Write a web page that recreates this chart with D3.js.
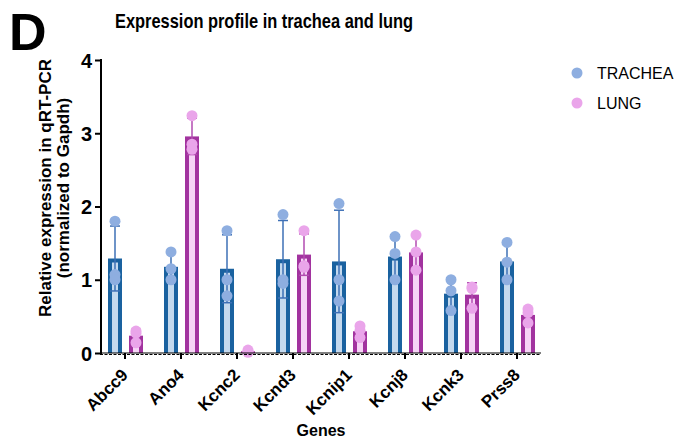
<!DOCTYPE html>
<html><head><meta charset="utf-8">
<script src="https://cdn.jsdelivr.net/npm/d3@7"></script>
<style>
html,body{margin:0;padding:0;background:#fff;}
text{font-family:"Liberation Sans",Arial,sans-serif;}
</style></head>
<body><svg id="c" width="680" height="440"></svg>
<script>
const genes = ["Abcc9","Ano4","Kcnc2","Kcnd3","Kcnip1","Kcnj8","Kcnk3","Prss8"];
const series = ["TRACHEA","LUNG"];
const tracheaPoints = [
  [1.80,1.07,1.00],[1.38,1.15,1.00],[1.67,1.00,0.78],[1.89,1.00,0.95],
  [2.04,1.00,0.71],[1.59,1.36,1.00],[1.00,0.85,0.58],[1.51,1.24,1.00]
];
const lungPoints = [
  [0.30,0.27,0.14],[3.24,2.85,2.78],[0.04,0.02,0.01],[1.67,1.19,1.17],
  [0.37,0.31,0.21],[1.61,1.38,1.13],[0.90,0.88,0.61],[0.60,0.55,0.41]
];
const yTicks = [0,1,2,3,4];

const svg = d3.select("#c");
const x = d3.scaleBand().domain(genes).range([97,545]);
const sub = d3.scaleBand().domain(series).range([11,46]).paddingInner(1/3);
const y = d3.scaleLinear().domain([0,4]).range([353,60]);

const style = {
  TRACHEA:{dark:"#1a62a0", light:"#c4d9ee", pt:"#8eaee0", err:"#3e70b6"},
  LUNG:{dark:"#a2339f", light:"#f6d4f6", pt:"#eaa5ea", err:"#b24bb0"}
};
const pointsBy = {TRACHEA:tracheaPoints, LUNG:lungPoints};

// title
svg.append("text").attr("x",9).attr("y",50).attr("font-size",52).attr("font-weight","bold").text("D");
svg.append("text").attr("x",115).attr("y",28).attr("font-size",21).attr("font-weight","bold")
  .attr("textLength",298).attr("lengthAdjust","spacingAndGlyphs").text("Expression profile in trachea and lung");

// bars
series.forEach(s=>{
  const st = style[s];
  genes.forEach((g,i)=>{
    const pts = pointsBy[s][i];
    const m = d3.mean(pts), sd = d3.deviation(pts);
    const x0 = x(g)+sub(s), w = sub.bandwidth();
    const grp = svg.append("g");
    grp.append("rect").attr("x",x0).attr("y",y(m)).attr("width",w).attr("height",Math.max(0,y(0)-y(m))).attr("fill",st.dark);
    const ih = y(0)-y(m)-4;
    if (ih>0) grp.append("rect").attr("x",x0+4).attr("y",y(m)+4).attr("width",w-8).attr("height",ih).attr("fill",st.light);
    const cx = x0+w/2;
    grp.append("line").attr("x1",cx).attr("x2",cx).attr("y1",y(m+sd)).attr("y2",y(Math.max(0,m-sd))).attr("stroke",st.err).attr("stroke-width",1.5);
    grp.append("line").attr("x1",cx-5).attr("x2",cx+5).attr("y1",y(m+sd)).attr("y2",y(m+sd)).attr("stroke",st.err).attr("stroke-width",1.5);
    grp.append("line").attr("x1",cx-5).attr("x2",cx+5).attr("y1",y(Math.max(0,m-sd))).attr("y2",y(Math.max(0,m-sd))).attr("stroke",st.err).attr("stroke-width",1.5);
    pts.forEach(v=>{
      grp.append("circle").attr("cx",cx).attr("cy",y(v)).attr("r",5.5).attr("fill",st.pt);
    });
  });
});

// y axis
const ya = d3.axisLeft(y).tickValues(yTicks).tickSize(6).tickPadding(3).tickFormat(d3.format("d"));
const yg = svg.append("g").attr("transform","translate(101,0)").call(ya);
yg.select(".domain").attr("stroke","#000").attr("stroke-width",2).attr("d","M0,59V354");
yg.selectAll(".tick line").attr("stroke","#000").attr("stroke-width",2);
yg.selectAll(".tick text").attr("font-size",20).attr("font-weight","bold").attr("fill","#000")
  .attr("font-family","'Liberation Sans',Arial,sans-serif").attr("dy","0.36em");

// x axis
const xa = d3.axisBottom(x).tickSize(6).tickFormat(d=>d);
const xg = svg.append("g").attr("transform","translate(0,353)").call(xa);
xg.select(".domain").remove();
xg.append("line").attr("x1",100).attr("x2",541).attr("y1",0).attr("y2",0).attr("stroke","#000").attr("stroke-width",1.2);
xg.append("line").attr("x1",100).attr("x2",541).attr("y1",1.5).attr("y2",1.5).attr("stroke","#000").attr("stroke-width",1.2).attr("stroke-dasharray","3,1.5");
xg.selectAll(".tick line").attr("stroke","#000").attr("stroke-width",2);
xg.selectAll(".tick text").attr("font-size",17).attr("font-weight","bold").attr("fill","#000")
  .attr("font-family","'Liberation Sans',Arial,sans-serif")
  .attr("text-anchor","end").attr("dy",0).attr("y",0)
  .attr("transform","translate(4,23) rotate(-45)");

svg.append("text").attr("x",321).attr("y",436).attr("text-anchor","middle").attr("font-size",16).attr("font-weight","bold").text("Genes");

// y title
const yt = svg.append("text").attr("transform","translate(0,188) rotate(-90)").attr("text-anchor","middle").attr("font-size",17).attr("font-weight","bold");
yt.append("tspan").attr("x",0).attr("y",51).text("Relative expression in qRT-PCR");
yt.append("tspan").attr("x",0).attr("y",69).text("(normalized to Gapdh)");

// legend
series.forEach((s,i)=>{
  const ly = 73 + i*30;
  svg.append("circle").attr("cx",577).attr("cy",ly).attr("r",5.5).attr("fill",style[s].pt);
  svg.append("text").attr("x",597).attr("y",ly+6).attr("font-size",16).text(s);
});
</script></body></html>
